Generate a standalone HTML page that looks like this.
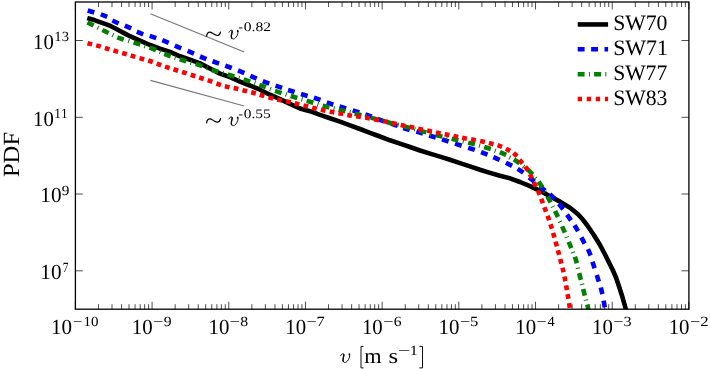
<!DOCTYPE html>
<html><head><meta charset="utf-8"><style>
html,body{margin:0;padding:0;background:#fff;width:710px;height:369px;overflow:hidden}
svg{display:block;will-change:transform}
text{font-family:"Liberation Serif",serif;fill:#000;font-kerning:none;text-rendering:geometricPrecision}
</style></head><body>
<svg width="710" height="369" viewBox="0 0 710 369">
<defs><clipPath id="c"><rect x="75.4" y="2.0" width="613.5" height="307.2"/></clipPath></defs>

<path d="M75.40 309.20V301.70M75.40 2.00V9.50M98.49 309.20V304.20M98.49 2.00V7.00M111.99 309.20V304.20M111.99 2.00V7.00M121.57 309.20V304.20M121.57 2.00V7.00M129.00 309.20V304.20M129.00 2.00V7.00M135.07 309.20V304.20M135.07 2.00V7.00M140.21 309.20V304.20M140.21 2.00V7.00M144.66 309.20V304.20M144.66 2.00V7.00M148.58 309.20V304.20M148.58 2.00V7.00M152.09 309.20V301.70M152.09 2.00V9.50M175.17 309.20V304.20M175.17 2.00V7.00M188.68 309.20V304.20M188.68 2.00V7.00M198.26 309.20V304.20M198.26 2.00V7.00M205.69 309.20V304.20M205.69 2.00V7.00M211.76 309.20V304.20M211.76 2.00V7.00M216.90 309.20V304.20M216.90 2.00V7.00M221.34 309.20V304.20M221.34 2.00V7.00M225.27 309.20V304.20M225.27 2.00V7.00M228.78 309.20V301.70M228.78 2.00V9.50M251.86 309.20V304.20M251.86 2.00V7.00M265.36 309.20V304.20M265.36 2.00V7.00M274.95 309.20V304.20M274.95 2.00V7.00M282.38 309.20V304.20M282.38 2.00V7.00M288.45 309.20V304.20M288.45 2.00V7.00M293.58 309.20V304.20M293.58 2.00V7.00M298.03 309.20V304.20M298.03 2.00V7.00M301.95 309.20V304.20M301.95 2.00V7.00M305.46 309.20V301.70M305.46 2.00V9.50M328.55 309.20V304.20M328.55 2.00V7.00M342.05 309.20V304.20M342.05 2.00V7.00M351.63 309.20V304.20M351.63 2.00V7.00M359.06 309.20V304.20M359.06 2.00V7.00M365.14 309.20V304.20M365.14 2.00V7.00M370.27 309.20V304.20M370.27 2.00V7.00M374.72 309.20V304.20M374.72 2.00V7.00M378.64 309.20V304.20M378.64 2.00V7.00M382.15 309.20V301.70M382.15 2.00V9.50M405.24 309.20V304.20M405.24 2.00V7.00M418.74 309.20V304.20M418.74 2.00V7.00M428.32 309.20V304.20M428.32 2.00V7.00M435.75 309.20V304.20M435.75 2.00V7.00M441.82 309.20V304.20M441.82 2.00V7.00M446.96 309.20V304.20M446.96 2.00V7.00M451.41 309.20V304.20M451.41 2.00V7.00M455.33 309.20V304.20M455.33 2.00V7.00M458.84 309.20V301.70M458.84 2.00V9.50M481.92 309.20V304.20M481.92 2.00V7.00M495.43 309.20V304.20M495.43 2.00V7.00M505.01 309.20V304.20M505.01 2.00V7.00M512.44 309.20V304.20M512.44 2.00V7.00M518.51 309.20V304.20M518.51 2.00V7.00M523.65 309.20V304.20M523.65 2.00V7.00M528.09 309.20V304.20M528.09 2.00V7.00M532.02 309.20V304.20M532.02 2.00V7.00M535.52 309.20V301.70M535.52 2.00V9.50M558.61 309.20V304.20M558.61 2.00V7.00M572.11 309.20V304.20M572.11 2.00V7.00M581.70 309.20V304.20M581.70 2.00V7.00M589.13 309.20V304.20M589.13 2.00V7.00M595.20 309.20V304.20M595.20 2.00V7.00M600.33 309.20V304.20M600.33 2.00V7.00M604.78 309.20V304.20M604.78 2.00V7.00M608.70 309.20V304.20M608.70 2.00V7.00M612.21 309.20V301.70M612.21 2.00V9.50M635.30 309.20V304.20M635.30 2.00V7.00M648.80 309.20V304.20M648.80 2.00V7.00M658.38 309.20V304.20M658.38 2.00V7.00M665.81 309.20V304.20M665.81 2.00V7.00M671.89 309.20V304.20M671.89 2.00V7.00M677.02 309.20V304.20M677.02 2.00V7.00M681.47 309.20V304.20M681.47 2.00V7.00M685.39 309.20V304.20M685.39 2.00V7.00M688.90 309.20V301.70M688.90 2.00V9.50M75.40 40.50H82.80M688.90 40.50H681.50M75.40 117.30H82.80M688.90 117.30H681.50M75.40 194.00H82.80M688.90 194.00H681.50M75.40 270.80H82.80M688.90 270.80H681.50" stroke="#000" stroke-width="0.7" fill="none"/>
<line x1="150.4" y1="13.8" x2="244.2" y2="52.0" stroke="#777" stroke-width="1.2"/>
<line x1="150.4" y1="80.3" x2="244.2" y2="106.0" stroke="#777" stroke-width="1.2"/>
<g clip-path="url(#c)" fill="none" stroke-width="4.6">
<polyline points="87.3,18.0 95.0,20.3 105.0,23.8 111.0,26.2 115.0,28.2 120.0,31.0 125.0,33.6 130.0,36.2 135.0,38.4 140.0,40.6 150.0,45.0 160.0,48.6 170.0,51.9 180.0,56.3 190.0,59.7 200.0,63.4 210.0,68.5 220.0,73.6 230.0,77.1 240.0,81.6 250.0,85.5 260.0,89.7 270.0,94.7 280.0,99.2 290.0,103.9 300.0,108.5 310.0,111.2 320.0,114.9 330.0,118.2 340.0,121.7 350.0,125.3 360.0,129.0 370.0,132.9 380.0,136.5 390.0,140.3 400.0,143.6 410.0,147.0 420.0,150.5 430.0,153.6 440.0,156.6 450.0,159.8 460.0,163.1 470.0,166.4 480.0,169.8 490.0,172.9 500.0,175.8 510.0,178.3 520.0,182.0 530.0,186.2 540.0,190.8 550.0,196.3 560.0,201.6 570.0,207.8 578.0,214.3 583.0,219.8 587.0,225.0 594.0,235.2 600.0,245.0 605.0,254.5 609.0,262.5 612.5,269.5 616.0,277.5 619.3,287.3 622.5,297.3 625.5,308.0 627.5,315.0" stroke="#000" stroke-linejoin="round"/>
<path d="M87.71 10.46L94.29 12.54M100.83 14.24L107.17 16.96M112.38 20.52L118.62 23.48M124.85 25.59L131.15 28.41M136.80 31.72L143.20 34.28M149.73 35.91L156.27 38.09M162.30 40.22L168.70 42.78M174.82 45.66L181.18 48.34M187.63 50.84L193.97 53.56M200.01 56.50L206.39 59.10M212.55 61.24L219.05 63.56M225.26 65.60L231.74 68.00M238.02 70.46L244.38 73.14M250.33 75.94L256.67 78.66M262.77 81.19L269.23 83.61M275.53 85.69L282.07 87.91M288.02 89.94L294.58 92.06M301.00 94.01L307.60 95.99M313.93 97.71L320.47 99.89M326.73 102.49L333.27 104.71M339.50 106.51L346.10 108.49M352.71 110.37L359.29 112.43M365.25 114.35L371.75 116.65M377.56 119.03L384.04 121.37M390.94 123.68L397.46 125.92M403.20 128.00L409.80 130.00M416.39 131.54L423.01 133.46M429.20 135.48L435.80 137.52M442.01 139.35L448.59 141.45M455.01 143.65L461.59 145.75M468.22 147.72L474.78 149.88M481.08 152.05L487.52 154.55M493.35 157.10L499.65 159.90M505.93 162.73L512.07 165.87M517.63 168.89L523.37 172.71M529.11 177.34L534.49 181.66M539.84 186.30L545.16 190.70M549.83 194.09L554.77 198.91M558.85 203.80L563.15 209.20M567.01 214.68L570.99 220.32M574.51 225.25L578.09 231.15M581.36 237.46L584.64 243.54M587.94 249.13L590.66 255.47M592.43 261.72L594.57 268.28M596.77 275.01L598.83 281.59M600.77 287.45L602.43 294.15M603.63 300.60L604.77 307.40M605.53 313.58L606.47 320.42" stroke="#0000ff"/>
<path d="M87.41 22.46L93.59 25.54M102.39 30.00L108.61 33.00M117.27 37.28L123.73 39.72M133.61 42.35L140.19 44.45M149.57 47.58L156.03 50.02M164.28 53.77L170.72 56.23M179.71 59.26L186.29 61.34M195.72 63.92L202.28 66.08M211.72 69.72L218.28 71.88M227.70 74.50L234.30 76.50M243.73 79.41L250.27 81.59M259.36 84.81L265.84 87.19M275.04 90.86L281.56 93.14M290.70 95.98L297.30 98.02M306.70 100.81L313.30 102.79M322.67 105.69L329.33 107.51M338.65 109.68L345.35 111.32M354.65 113.56L361.35 115.24M370.66 117.62L377.34 119.38M386.66 121.93L393.34 123.67M403.16 126.12L409.84 127.88M419.67 130.60L426.33 132.40M435.65 134.96L442.35 136.64M451.64 138.70L458.36 140.30M468.16 142.63L474.84 144.37M484.21 146.96L490.79 149.04M499.86 152.07L506.14 154.93M513.94 159.36L519.66 163.24M527.83 169.59L532.77 174.41M538.56 181.65L542.44 187.35M547.36 196.47L550.64 202.53M555.00 210.89L558.00 217.11M562.12 226.34L564.88 232.66M568.70 241.80L571.30 248.20M574.86 256.71L576.94 263.29M579.16 273.15L580.84 279.85M583.15 288.96L584.85 295.64M587.29 304.42L588.71 311.18M589.94 319.60L591.06 326.40M97.55 27.53L98.45 27.97M112.55 34.79L113.45 35.21M128.22 40.81L129.18 41.09M144.38 45.94L145.32 46.26M159.69 51.71L160.61 52.09M174.78 57.49L175.72 57.81M190.52 62.51L191.48 62.79M206.53 67.73L207.47 68.07M222.52 73.01L223.48 73.29M238.52 77.85L239.48 78.15M254.33 83.08L255.27 83.42M269.98 88.82L270.92 89.18M285.67 94.35L286.63 94.65M301.52 99.26L302.48 99.54M317.52 104.06L318.48 104.34M333.51 108.43L334.49 108.67M349.51 112.33L350.49 112.57M365.52 116.33L366.48 116.57M381.52 120.52L382.48 120.78M397.77 124.78L398.73 125.02M414.27 129.12L415.23 129.38M430.52 133.52L431.48 133.78M446.51 137.54L447.49 137.76M462.76 141.38L463.74 141.62M479.02 145.61L479.98 145.89M494.78 150.58L495.72 150.92M509.46 157.15L510.34 157.65M523.16 166.34L523.94 166.96M535.08 177.86L535.72 178.64M544.50 191.56L545.00 192.44M552.52 206.31L552.98 207.19M559.79 221.29L560.21 222.21M566.56 236.79L566.94 237.71M572.77 252.03L573.13 252.97M577.83 267.76L578.07 268.74M581.88 283.92L582.12 284.88M585.88 299.57L586.12 300.53M589.17 314.91L589.33 315.89" stroke="#008000"/>
<path d="M87.47 43.21L92.13 44.39M96.19 45.35L100.81 46.65M104.90 48.01L109.50 49.39M113.49 50.55L118.11 51.85M122.20 52.93L126.80 54.27M130.70 55.51L135.30 56.89M139.49 58.14L144.11 59.46M148.22 60.45L152.78 61.95M156.65 63.57L161.15 65.23M165.02 66.65L169.58 68.15M173.51 69.29L178.09 70.71M182.11 71.97L186.69 73.43M190.72 74.77L195.28 76.23M199.22 77.46L203.78 78.94M207.74 80.20L212.26 81.80M216.43 83.53L220.97 85.07M224.87 86.22L229.53 87.38M233.66 88.08L238.34 89.12M242.47 90.14L247.13 91.26M251.18 92.17L255.82 93.43M259.70 94.71L264.30 96.09M268.48 97.39L273.12 98.61M277.15 99.51L281.85 100.49M286.06 101.18L290.74 102.22M294.67 103.32L299.33 104.48M303.47 105.41L308.13 106.59M312.17 107.74L316.83 108.86M320.85 109.70L325.55 110.70M329.64 111.54L334.36 112.46M338.44 113.16L343.16 114.04M347.23 114.90L351.97 115.70M356.13 116.24L360.87 116.96M365.13 117.59L369.87 118.41M374.14 119.24L378.86 120.16M383.15 121.01L387.85 121.99M391.86 122.88L396.54 123.92M400.65 124.89L405.35 125.91M409.45 126.69L414.15 127.71M418.15 128.70L422.85 129.70M427.15 130.50L431.85 131.50M435.95 132.52L440.65 133.48M444.64 134.14L449.36 135.06M453.45 135.92L458.15 136.88M462.14 137.74L466.86 138.66M471.04 139.35L475.76 140.25M480.15 141.10L484.85 142.10M488.87 143.01L493.53 144.19M497.55 145.17L502.05 146.83M505.90 148.64L510.10 150.96M513.52 152.99L517.08 156.21M519.48 159.74L522.52 163.46M525.26 166.41L527.94 170.39M529.90 174.27L532.10 178.53M533.86 182.34L535.94 186.66M537.84 190.40L539.76 194.80M541.25 198.76L542.95 203.24M544.37 207.25L546.03 211.75M547.60 215.74L549.20 220.26M550.48 224.21L551.92 228.79M553.14 232.99L554.46 237.61M555.57 241.68L556.83 246.32M557.88 250.28L559.12 254.92M560.20 258.98L561.40 263.62M562.46 267.66L563.54 272.34M564.44 276.55L565.36 281.25M566.09 285.44L566.91 290.16M567.60 294.23L568.40 298.97M569.13 303.13L569.87 307.87M570.46 312.12L571.14 316.88" stroke="#ff0000"/>
</g>
<rect x="75.40" y="2.00" width="613.50" height="307.20" fill="none" stroke="#000" stroke-width="1.3"/>
<text x="33.08" y="48.70" font-size="21.5" textLength="20.71" lengthAdjust="spacingAndGlyphs">10</text>
<text x="54.31" y="41.10" font-size="14" textLength="14.66" lengthAdjust="spacingAndGlyphs">13</text>
<text x="33.08" y="125.50" font-size="21.5" textLength="20.71" lengthAdjust="spacingAndGlyphs">10</text>
<text x="54.32" y="117.90" font-size="14" textLength="13.38" lengthAdjust="spacingAndGlyphs">11</text>
<text x="40.34" y="202.20" font-size="21.5" textLength="21.17" lengthAdjust="spacingAndGlyphs">10</text>
<text x="61.81" y="195.00" font-size="14" textLength="7.62" lengthAdjust="spacingAndGlyphs">9</text>
<text x="40.34" y="279.00" font-size="21.5" textLength="21.17" lengthAdjust="spacingAndGlyphs">10</text>
<text x="62.64" y="271.90" font-size="14" textLength="5.80" lengthAdjust="spacingAndGlyphs">7</text>
<text x="51.05" y="333.70" font-size="21.5" textLength="21.05" lengthAdjust="spacingAndGlyphs">10</text>
<text x="72.98" y="326.20" font-size="14" textLength="9.33" lengthAdjust="spacingAndGlyphs">−</text>
<text x="83.48" y="325.60" font-size="14" textLength="14.99" lengthAdjust="spacingAndGlyphs">10</text>
<text x="131.86" y="333.70" font-size="21.5" textLength="20.82" lengthAdjust="spacingAndGlyphs">10</text>
<text x="153.19" y="326.20" font-size="14" textLength="10.18" lengthAdjust="spacingAndGlyphs">−</text>
<text x="163.78" y="325.60" font-size="14" textLength="7.85" lengthAdjust="spacingAndGlyphs">9</text>
<text x="208.54" y="333.70" font-size="21.5" textLength="20.82" lengthAdjust="spacingAndGlyphs">10</text>
<text x="229.88" y="326.20" font-size="14" textLength="10.18" lengthAdjust="spacingAndGlyphs">−</text>
<text x="240.37" y="325.60" font-size="14" textLength="7.90" lengthAdjust="spacingAndGlyphs">8</text>
<text x="285.23" y="333.70" font-size="21.5" textLength="20.82" lengthAdjust="spacingAndGlyphs">10</text>
<text x="306.56" y="326.20" font-size="14" textLength="10.18" lengthAdjust="spacingAndGlyphs">−</text>
<text x="316.57" y="325.60" font-size="14" textLength="8.27" lengthAdjust="spacingAndGlyphs">7</text>
<text x="361.92" y="333.70" font-size="21.5" textLength="20.82" lengthAdjust="spacingAndGlyphs">10</text>
<text x="383.25" y="326.20" font-size="14" textLength="10.18" lengthAdjust="spacingAndGlyphs">−</text>
<text x="393.68" y="325.60" font-size="14" textLength="7.84" lengthAdjust="spacingAndGlyphs">6</text>
<text x="438.61" y="333.70" font-size="21.5" textLength="20.82" lengthAdjust="spacingAndGlyphs">10</text>
<text x="459.94" y="326.20" font-size="14" textLength="10.18" lengthAdjust="spacingAndGlyphs">−</text>
<text x="470.07" y="325.60" font-size="14" textLength="8.32" lengthAdjust="spacingAndGlyphs">5</text>
<text x="515.29" y="333.70" font-size="21.5" textLength="20.82" lengthAdjust="spacingAndGlyphs">10</text>
<text x="536.63" y="326.20" font-size="14" textLength="10.18" lengthAdjust="spacingAndGlyphs">−</text>
<text x="547.44" y="325.60" font-size="14" textLength="7.21" lengthAdjust="spacingAndGlyphs">4</text>
<text x="591.98" y="333.70" font-size="21.5" textLength="20.82" lengthAdjust="spacingAndGlyphs">10</text>
<text x="613.31" y="326.20" font-size="14" textLength="10.18" lengthAdjust="spacingAndGlyphs">−</text>
<text x="623.64" y="325.60" font-size="14" textLength="8.11" lengthAdjust="spacingAndGlyphs">3</text>
<text x="668.67" y="333.70" font-size="21.5" textLength="20.82" lengthAdjust="spacingAndGlyphs">10</text>
<text x="690.00" y="326.20" font-size="14" textLength="10.18" lengthAdjust="spacingAndGlyphs">−</text>
<text x="700.37" y="325.60" font-size="14" textLength="8.36" lengthAdjust="spacingAndGlyphs">2</text>
<g transform="translate(18.6,0) rotate(-90)"><text x="-177.11" y="0.00" font-size="23.2" textLength="45.20" lengthAdjust="spacingAndGlyphs">PDF</text></g>
<g transform="translate(112.5,323.2)" fill="none" stroke="#000" stroke-linecap="round"><path d="M228.2 32.6C228.7 31.1 229.8 30.3 230.7 30.5C231.7 30.8 231.6 32.3 231.1 34.0C230.6 35.7 230.4 37.3 231.0 38.4C231.5 39.3 232.6 39.5 233.6 39.0C235.6 37.9 237.3 34.6 237.3 31.8" stroke-width="0.9"/><path d="M231.3 31.3C231.4 32.5 230.9 34.0 230.6 35.3C230.3 36.6 230.4 37.6 230.9 38.3" stroke-width="1.3"/><ellipse cx="236.85" cy="31.3" rx="0.85" ry="1.15" fill="#000" stroke="none"/></g>
<path d="M363.5 346.4H361V367.9H363.5M419.3 346.4H422.5V367.9H419.3" fill="none" stroke="#000" stroke-width="0.95"/>
<text x="364.33" y="362.50" font-size="21.5" textLength="17.32" lengthAdjust="spacingAndGlyphs">m</text>
<text x="388.49" y="362.50" font-size="21.5" textLength="9.60" lengthAdjust="spacingAndGlyphs">s</text>
<text x="397.91" y="354.90" font-size="14" textLength="12.36" lengthAdjust="spacingAndGlyphs">−</text>
<text x="409.68" y="354.90" font-size="14" textLength="8.10" lengthAdjust="spacingAndGlyphs">1</text>
<path transform="translate(0,0)" d="M206.6 36.2C206.9 33.5 208.3 32.1 209.8 32.1C211.6 32.1 212.8 33.6 214.2 34.3C215.4 35.0 216.4 35.6 217.4 35.5C219.0 35.4 220.2 34.0 220.5 32.0" fill="none" stroke="#000" stroke-width="1.2" stroke-linecap="round"/>
<g transform="translate(0.8,-0.3)" fill="none" stroke="#000" stroke-linecap="round"><path d="M228.2 32.6C228.7 31.1 229.8 30.3 230.7 30.5C231.7 30.8 231.6 32.3 231.1 34.0C230.6 35.7 230.4 37.3 231.0 38.4C231.5 39.3 232.6 39.5 233.6 39.0C235.6 37.9 237.3 34.6 237.3 31.8" stroke-width="0.9"/><path d="M231.3 31.3C231.4 32.5 230.9 34.0 230.6 35.3C230.3 36.6 230.4 37.6 230.9 38.3" stroke-width="1.3"/><ellipse cx="236.85" cy="31.3" rx="0.85" ry="1.15" fill="#000" stroke="none"/></g>
<text x="238.60" y="31.40" font-size="13" textLength="4.49" lengthAdjust="spacingAndGlyphs">-</text>
<text x="243.71" y="31.40" font-size="13" textLength="27.25" lengthAdjust="spacingAndGlyphs">0.82</text>
<path transform="translate(0,86.7)" d="M206.6 36.2C206.9 33.5 208.3 32.1 209.8 32.1C211.6 32.1 212.8 33.6 214.2 34.3C215.4 35.0 216.4 35.6 217.4 35.5C219.0 35.4 220.2 34.0 220.5 32.0" fill="none" stroke="#000" stroke-width="1.2" stroke-linecap="round"/>
<g transform="translate(0.8,86.4)" fill="none" stroke="#000" stroke-linecap="round"><path d="M228.2 32.6C228.7 31.1 229.8 30.3 230.7 30.5C231.7 30.8 231.6 32.3 231.1 34.0C230.6 35.7 230.4 37.3 231.0 38.4C231.5 39.3 232.6 39.5 233.6 39.0C235.6 37.9 237.3 34.6 237.3 31.8" stroke-width="0.9"/><path d="M231.3 31.3C231.4 32.5 230.9 34.0 230.6 35.3C230.3 36.6 230.4 37.6 230.9 38.3" stroke-width="1.3"/><ellipse cx="236.85" cy="31.3" rx="0.85" ry="1.15" fill="#000" stroke="none"/></g>
<text x="238.60" y="118.10" font-size="13" textLength="4.49" lengthAdjust="spacingAndGlyphs">-</text>
<text x="243.71" y="118.10" font-size="13" textLength="26.99" lengthAdjust="spacingAndGlyphs">0.55</text>
<path d="M577.70 24.45H608.10" stroke="#000" stroke-width="4.6" fill="none"/>
<text x="613.15" y="29.95" font-size="22" textLength="54.28" lengthAdjust="spacingAndGlyphs">SW70</text>
<path d="M577.70 49.30H584.60M591.10 49.30H598.00M604.50 49.30H608.10" stroke="#0000ff" stroke-width="4.6" fill="none"/>
<text x="613.13" y="54.80" font-size="22" textLength="54.78" lengthAdjust="spacingAndGlyphs">SW71</text>
<path d="M577.70 74.20H584.60M588.90 74.20H589.90M594.10 74.20H601.00M605.30 74.20H606.30" stroke="#008000" stroke-width="4.6" fill="none"/>
<text x="613.15" y="79.70" font-size="22" textLength="54.07" lengthAdjust="spacingAndGlyphs">SW77</text>
<path d="M577.70 99.00H582.00M586.75 99.00H591.05M595.80 99.00H600.10M604.85 99.00H608.10" stroke="#ff0000" stroke-width="4.6" fill="none"/>
<text x="613.15" y="104.50" font-size="22" textLength="54.30" lengthAdjust="spacingAndGlyphs">SW83</text>
</svg></body></html>
